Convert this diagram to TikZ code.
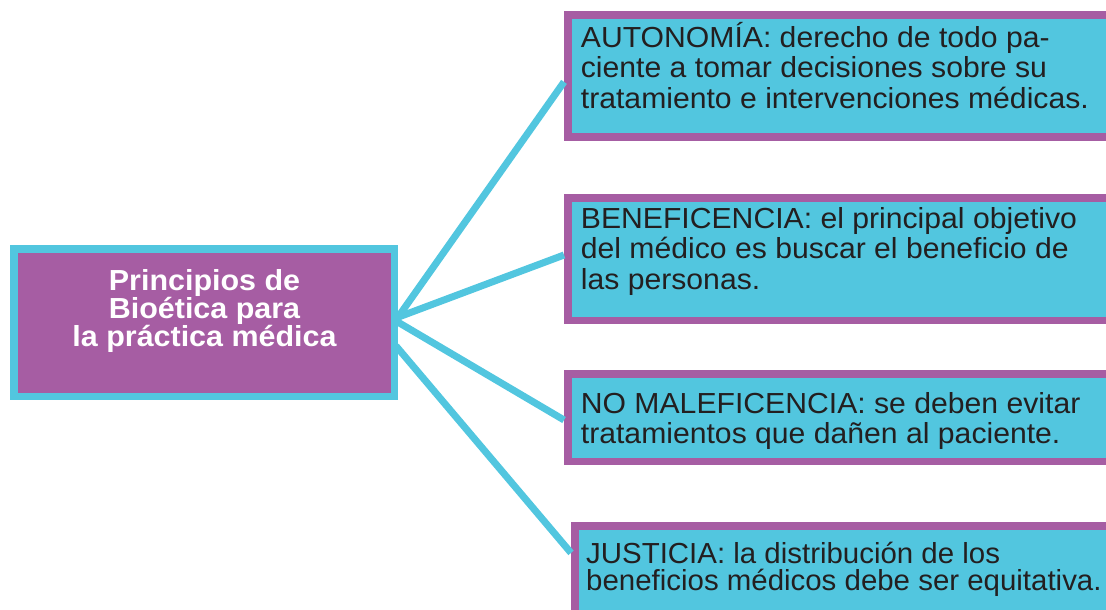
\documentclass[tikz,border=0pt]{standalone}
\usepackage{fontspec}
\setmainfont{Liberation Sans}
\newfontfamily\rfont[FakeStretch=1.04]{Liberation Sans}
\newfontfamily\jfont[FakeStretch=1.015]{Liberation Sans}
\newfontfamily\mfont[FakeStretch=1.05]{Liberation Sans}
\usetikzlibrary{calc}
\definecolor{cy}{HTML}{52C6DF}
\definecolor{pu}{HTML}{A65DA3}
\definecolor{ink}{HTML}{231F20}
\tikzset{
  mainbox/.style={draw=cy, fill=pu, line width=7.5pt, minimum width=380.5pt, minimum height=147.5pt, inner sep=0pt},
  mainlbl/.style={text=white, font=\mfont\fontsize{29}{28}\selectfont\bfseries, align=center, inner sep=0pt, anchor=base},
  rbox/.style={draw=pu, fill=cy, line width=7.5pt, inner sep=0pt},
  rtext/.style={text=ink, font=\rfont\fontsize{29}{30.5}\selectfont, align=left, inner sep=0pt, anchor=base west},
  link/.style={draw=cy, line width=7pt}
}
\begin{document}
\begin{tikzpicture}[x=1pt,y=1pt]
\useasboundingbox (0,0) rectangle (1106,-610);
% right boxes
\node[rbox, minimum width=552.25pt, minimum height=122.25pt] (b1) at (843.9,-75.9) {};
\node[rbox, minimum width=552.25pt, minimum height=122.5pt] (b2) at (843.9,-259) {};
\node[rbox, minimum width=552.25pt, minimum height=87.5pt] (b3) at (843.9,-417.5) {};
\node[rbox, minimum width=545.25pt, minimum height=114.25pt] (b4) at (847.4,-582.9) {};
% links
\coordinate (s1) at (396,-320);
\coordinate (s2) at (396,-318);
\coordinate (s3) at (396,-321);
\coordinate (s4) at (396,-346);
\draw[link] (s1) -- ($(b1.west)+(0,-6)$);
\draw[link] (s2) -- ($(b2.west)+(0,4)$);
\draw[link] (s3) -- ($(b3.west)+(0,-2.5)$);
\draw[link] (s4) -- ($(b4.west)+(0,30)$);
% main box
\node[mainbox] (main) at (204,-322.5) {};
\node[mainlbl] (mainl) at (204.5,-346.7) {Principios de\\Bioética para\\la práctica médica};
% texts
\node[rtext] (t1) at (580.7,-108.3) {AUTONOMÍA: derecho de todo pa-\\ciente a tomar decisiones sobre su\\tratamiento e intervenciones médicas.};
\node[rtext] (t2) at (580.7,-289.3) {BENEFICENCIA: el principal objetivo\\del médico es buscar el beneficio de\\las personas.};
\node[rtext, font=\rfont\fontsize{29}{29.5}\selectfont] (t3) at (580.7,-443.3) {NO MALEFICENCIA: se deben evitar\\tratamientos que dañen al paciente.};
\node[rtext, font=\jfont\fontsize{29}{27.5}\selectfont] (t4) at (586,-590.5) {JUSTICIA: la distribución de los\\beneficios médicos debe ser equitativa.};
\end{tikzpicture}
\end{document}
